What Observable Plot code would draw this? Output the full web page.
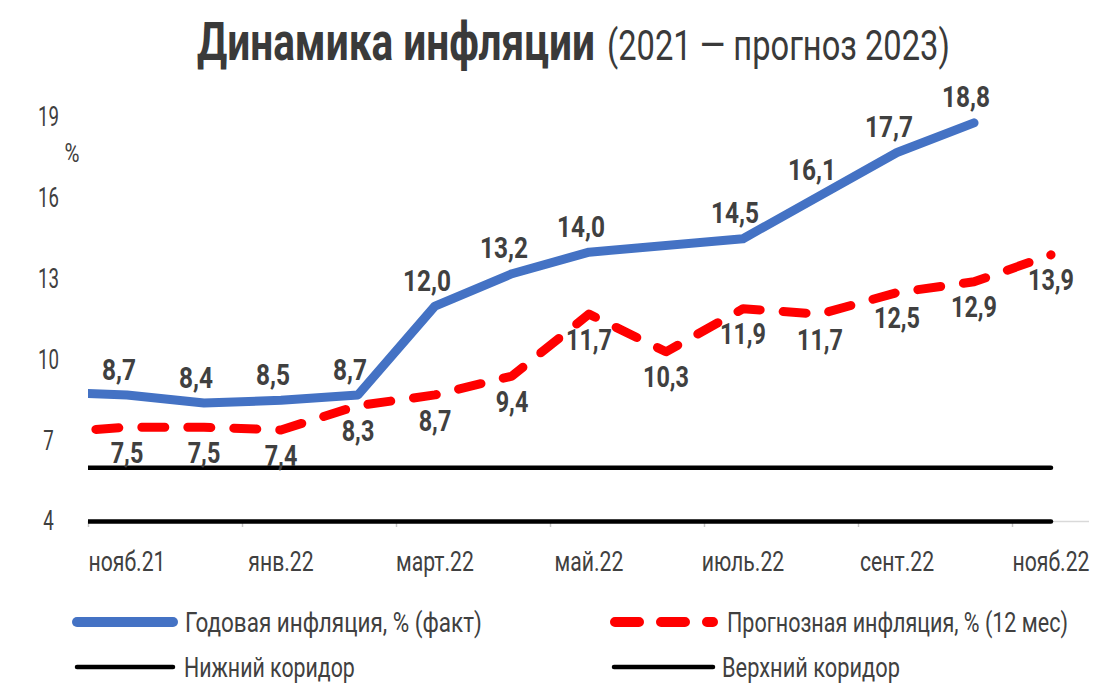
<!DOCTYPE html>
<html>
<head>
<meta charset="utf-8">
<script src="https://cdn.jsdelivr.net/npm/d3@7"></script>
<script src="https://cdn.jsdelivr.net/npm/@observablehq/plot@0.6"></script>
<style>
  body { margin: 0; background: #fff; font-family: Roboto, "Noto Sans", sans-serif; }
  #wrap { width: 1120px; height: 691px; overflow: hidden; }
  svg { display: block; }
</style>
</head>
<body>
<div id="wrap">
  <svg id="title" width="1120" height="80"></svg>
  <div id="chart"></div>
  <svg id="legend" width="1120" height="91"></svg>
</div>
<script>
// Months (index 0 = окт.21 lies just left of the visible axis; the axis starts at нояб.21)
const months = ["окт.21","нояб.21","дек.21","янв.22","февр.22","март.22","апр.22","май.22","июнь.22","июль.22","авг.22","сент.22","окт.22","нояб.22"];
const labelMonths = [1, 3, 5, 7, 9, 11, 13];
// Годовая инфляция, % (факт)
const fact = [8.8, 8.7, 8.4, 8.5, 8.7, 12.0, 13.2, 14.0, null, 14.5, 16.1, 17.7, 18.8, null];
// Прогнозная инфляция, % (12 мес)
const forecast = [7.3, 7.5, 7.5, 7.4, 8.3, 8.7, 9.4, 11.7, 10.3, 11.9, 11.7, 12.5, 12.9, 13.9];
// Нижний / Верхний коридор
const lower = [4, 4, 4, 4, 4, 4, 4, 4, 4, 4, 4, 4, 4, 4];
const upper = [6, 6, 6, 6, 6, 6, 6, 6, 6, 6, 6, 6, 6, 6];
const yTicks = [4, 7, 10, 13, 16, 19];
const titleMain = "Динамика инфляции";
const titleSub = "(2021 — прогноз 2023)";
const seriesNames = ["Годовая инфляция, % (факт)", "Прогнозная инфляция, % (12 мес)", "Нижний коридор", "Верхний коридор"];

const BLUE = "#4472c4", RED = "#ff0000", TXT = "#404040";
const FONT = 'Roboto, "Noto Sans", sans-serif';
const NS = "http://www.w3.org/2000/svg";

const toRows = arr => arr.map((v, i) => ({i, v})).filter(d => d.v != null);
const factRows = toRows(fact);
const fcRows = toRows(forecast);
const lowRows = toRows(lower);
const upRows = toRows(upper);
const fmt = v => v.toFixed(1).replace(".", ",");
const boundaries = labelMonths.map(m => m - 0.5);

const chart = Plot.plot({
  width: 1120,
  height: 520,
  marginLeft: 88,
  marginRight: 31,
  marginTop: 37,
  marginBottom: 73,
  style: {fontFamily: FONT, color: TXT, background: "transparent", overflow: "visible"},
  x: {domain: [0.5, 13.5], axis: null},
  y: {domain: [4, 19], axis: null, insetBottom: 6},
  marks: [
    Plot.ruleY([4], {stroke: "#d9d9d9", strokeWidth: 1.5}),
    Plot.axisX({ticks: boundaries, tickFormat: () => "", tickSize: 6, dy: -6, stroke: "#c8c8c8", strokeWidth: 1.5, label: null}),
    Plot.axisX({ticks: labelMonths, tickFormat: i => months[i], tickSize: 0, tickPadding: 24, fontSize: 27, fill: TXT, label: null, className: "axx"}),
    Plot.axisY({ticks: yTicks, tickSize: 0, tickPadding: 40, textAnchor: "middle", fontSize: 28, fill: TXT, label: null, className: "axy"}),
    Plot.text(["%"], {frameAnchor: "top-left", dx: -24, dy: 27, fontSize: 25, fill: TXT, className: "pct"}),
    Plot.line(lowRows, {x: "i", y: "v", stroke: "#000", strokeWidth: 4.5, clip: true}),
    Plot.line(upRows, {x: "i", y: "v", stroke: "#000", strokeWidth: 4.5, strokeLinecap: "round", clip: true}),
    Plot.line(fcRows, {x: "i", y: "v", stroke: RED, strokeWidth: 9, strokeDasharray: "23,23", strokeLinecap: "round", strokeLinejoin: "round", clip: true}),
    Plot.line(factRows, {x: "i", y: "v", stroke: BLUE, strokeWidth: 9, strokeLinecap: "round", strokeLinejoin: "round", clip: true}),
    Plot.text(factRows.filter(d => d.i > 0), {x: "i", y: "v", text: d => fmt(d.v), dy: -25, dx: -8, fontSize: 30, fontWeight: "bold", fill: TXT, className: "labf"}),
    Plot.text(fcRows.filter(d => d.i > 0), {x: "i", y: "v", text: d => fmt(d.v), dy: 26, fontSize: 30, fontWeight: "bold", fill: TXT, className: "labr"})
  ]
});
document.getElementById("chart").appendChild(chart);

// Condense chart texts horizontally (reference uses a condensed typeface)
function squeeze(selector, sample, target) {
  const els = Array.from(chart.querySelectorAll(selector));
  if (!els.length) return;
  const ref = els.find(e => e.textContent === sample) || els[0];
  const L = ref.getComputedTextLength();
  if (!L) return;
  const k = target / L;
  for (const e of els) {
    const l = e.getComputedTextLength();
    if (l > 0) {
      e.setAttribute("textLength", (l * k).toFixed(1));
      e.setAttribute("lengthAdjust", "spacingAndGlyphs");
    }
  }
}
squeeze(".axx text", "нояб.21", 77);
squeeze(".axy text", "19", 21);
squeeze(".labf text", "12,0", 48);
squeeze(".labr text", "11,7", 46);
squeeze(".pct text", "%", 15);

// Text condensed to a given width with a horizontal scale
function addText(svg, str, x, y, size, weight, width, fill) {
  const g = document.createElementNS(NS, "g");
  const t = document.createElementNS(NS, "text");
  t.setAttribute("font-family", FONT);
  t.setAttribute("font-size", size);
  t.setAttribute("font-weight", weight);
  t.setAttribute("fill", fill);
  t.textContent = str;
  g.appendChild(t);
  svg.appendChild(g);
  const L = t.getComputedTextLength() || width;
  g.setAttribute("transform", `translate(${x},${y}) scale(${(width / L).toFixed(4)},1)`);
  return g;
}

// Title
const tsvg = document.getElementById("title");
addText(tsvg, titleMain, 197, 60, 53, "bold", 398, "#3a3a3a");
addText(tsvg, titleSub, 607, 60, 42, "normal", 343, "#3a3a3a");

// Legend
const lsvg = document.getElementById("legend");
const legendItems = [
  {name: seriesNames[0], color: BLUE, w: 10, dash: null, x1: 77, x2: 173, y: 22, tx: 185, tw: 297},
  {name: seriesNames[1], color: RED, w: 10, dash: "24,22", x1: 615, x2: 713, y: 22, tx: 727, tw: 341},
  {name: seriesNames[2], color: "#000", w: 4.5, dash: null, x1: 77, x2: 173, y: 67, tx: 184, tw: 171},
  {name: seriesNames[3], color: "#000", w: 4.5, dash: null, x1: 614, x2: 713, y: 67, tx: 722, tw: 178}
];
for (const it of legendItems) {
  const ln = document.createElementNS(NS, "line");
  ln.setAttribute("x1", it.x1);
  ln.setAttribute("x2", it.x2);
  ln.setAttribute("y1", it.y);
  ln.setAttribute("y2", it.y);
  ln.setAttribute("stroke", it.color);
  ln.setAttribute("stroke-width", it.w);
  ln.setAttribute("stroke-linecap", "round");
  if (it.dash) ln.setAttribute("stroke-dasharray", it.dash);
  lsvg.appendChild(ln);
  addText(lsvg, it.name, it.tx, it.y + 10, 28, "normal", it.tw, TXT);
}
</script>
</body>
</html>
